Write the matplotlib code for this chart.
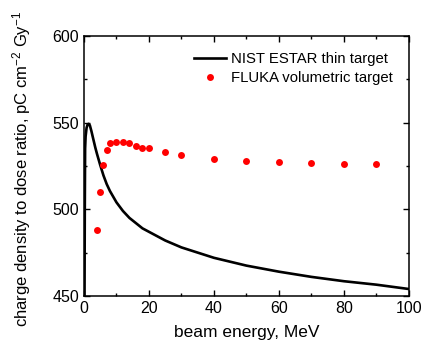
import matplotlib
matplotlib.use("Agg")
import matplotlib.pyplot as plt
from matplotlib.ticker import MultipleLocator

plt.rcParams['font.family'] = ['Liberation Sans', 'DejaVu Sans']
plt.rcParams['mathtext.fontset'] = 'custom'
plt.rcParams['mathtext.rm'] = 'Liberation Sans'
plt.rcParams['mathtext.it'] = 'Liberation Sans:italic'
plt.rcParams['mathtext.bf'] = 'Liberation Sans:bold'
plt.rcParams['axes.unicode_minus'] = False

# NIST ESTAR thin target curve
nist_energy = [0.15, 0.25, 0.35, 0.5, 0.8, 1.1, 1.4, 1.8, 2.3, 2.8, 3.5, 4, 5, 6, 7, 8,
               10, 12, 14, 16, 18, 20, 25, 30, 35, 40, 50, 60, 70, 80, 90, 100]
nist_ratio = [440, 500, 535, 542, 547, 548.8, 549.3, 548.5, 545, 541, 535.5, 532, 525.5,
              519.5, 514.5, 510.5, 504, 499, 495, 492, 489, 487, 482, 478, 475, 472,
              467.5, 464, 461, 458.5, 456.5, 454]

# FLUKA volumetric target points
fluka_energy = [4, 5, 6, 7, 8, 10, 12, 14, 16, 18, 20, 25, 30, 40, 50, 60, 70, 80, 90]
fluka_ratio = [488.2, 510.2, 525.4, 534, 538, 538.8, 538.8, 538.2, 536.6, 535.5, 535.1,
               532.8, 531.2, 528.8, 528, 527, 526.6, 526.1, 526.1]

fig = plt.figure(figsize=(4.22, 3.49), dpi=100)
ax = fig.add_axes([0.199, 0.152, 0.77, 0.745])

ax.plot(nist_energy, nist_ratio, color='black', lw=1.9, label='NIST ESTAR thin target')
ax.plot(fluka_energy, fluka_ratio, 'o', color='#ff0000', ms=5, mec='none',
        label='FLUKA volumetric target')

ax.set_xlim(0, 100)
ax.set_ylim(450, 600)
ax.xaxis.set_major_locator(MultipleLocator(20))
ax.xaxis.set_minor_locator(MultipleLocator(10))
ax.yaxis.set_major_locator(MultipleLocator(50))
ax.yaxis.set_minor_locator(MultipleLocator(25))
ax.tick_params(which='both', direction='in', top=True, right=True, labelsize=11.5, width=1)
ax.tick_params(which='major', length=4)
ax.tick_params(which='minor', length=2.5)
for s in ax.spines.values():
    s.set_linewidth(1.1)

ax.set_xlabel('beam energy, MeV', fontsize=12.5)
ax.set_ylabel('charge density to dose ratio, pC cm$^{-2}$ Gy$^{-1}$', fontsize=12)
ax.yaxis.set_label_coords(-0.157, 0.49)
ax.xaxis.set_label_coords(0.5, -0.11)

ax.legend(loc='upper right', frameon=False, fontsize=10.7, handlelength=2.2,
          handletextpad=0.3, borderaxespad=0.7, labelspacing=0.35, numpoints=1)

fig.savefig('out.png', dpi=100)
